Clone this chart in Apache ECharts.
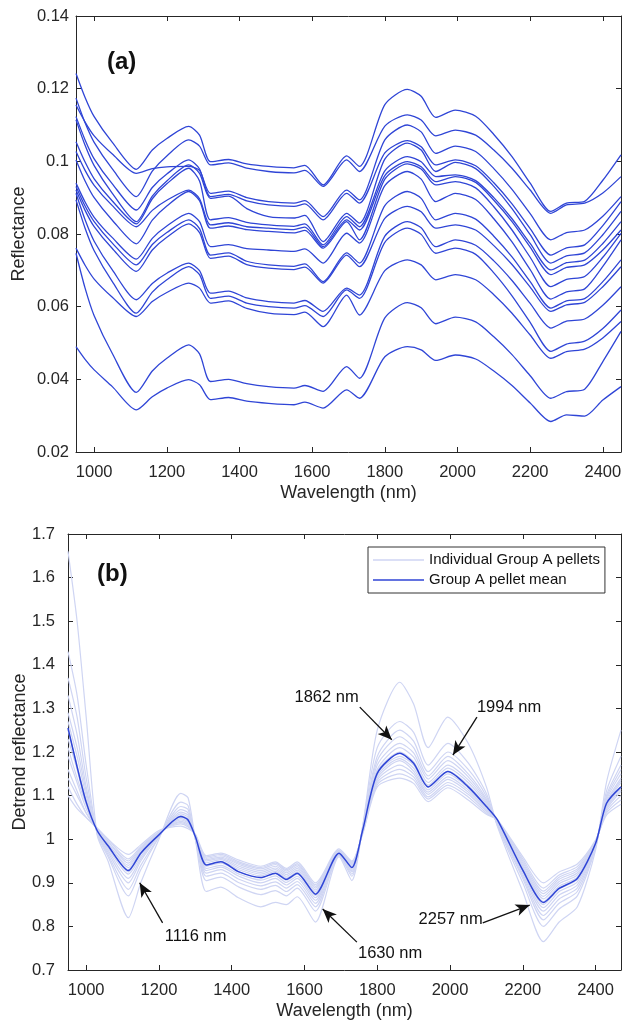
<!DOCTYPE html>
<html>
<head>
<meta charset="utf-8">
<script src="https://cdn.jsdelivr.net/npm/echarts@6/dist/echarts.min.js"></script>
<style>
  html, body { margin: 0; padding: 0; background: #fff; }
  #chart { width: 622px; height: 1023px; }
</style>
</head>
<body>
<div id="chart"></div>
<script>
// ---- panel (a): raw reflectance spectra ----
const wlA = [950, 975, 1000, 1050, 1116, 1160, 1200, 1260, 1290, 1320, 1370, 1420, 1480, 1550, 1580, 1630,
  1695, 1730, 1800, 1862, 1900, 1940, 1994, 2050, 2100, 2150, 2200, 2257, 2300, 2350, 2400, 2450];

const spectraA = [
  [.1242,.1176,.1123,.1052,.0978,.1031,.1063,.1096,.1072,.0999,.1005,.0993,.0986,.0982,.0989,.0935,.1015,.0986,.1156,.1198,.1179,.1121,.1141,.1124,.1074,.1013,.0940,.0862,.0885,.0890,.0948,.1018],
  [.1174,.1106,.1052,.0979,.0903,.0973,.1015,.1059,.1042,.0990,.0996,.0981,.0972,.0968,.0975,.0931,.1004,.0972,.1097,.1128,.1114,.1070,.1086,.1072,.1031,.0981,.0921,.0857,.0880,.0885,.0913,.0958],
  [.1155,.1108,.1070,.1020,.0967,.0980,.0985,.0986,.0975,.0912,.0918,.0900,.0889,.0885,.0892,.0848,.0921,.0894,.1059,.1100,.1081,.1022,.1042,.1027,.0980,.0923,.0856,.0784,.0804,.0811,.0849,.0903],
  [.1123,.1059,.1007,.0938,.0866,.0928,.0965,.1004,.0979,.0903,.0909,.0891,.0880,.0876,.0883,.0839,.0912,.0885,.1023,.1057,.1040,.0990,.1004,.0988,.0941,.0883,.0815,.0742,.0762,.0770,.0823,.0889],
  [.1114,.1044,.0988,.0912,.0834,.0904,.0946,.0990,.0967,.0898,.0904,.0870,.0848,.0844,.0851,.0779,.0857,.0830,.1006,.1050,.1031,.0972,.0997,.0980,.0931,.0870,.0798,.0720,.0740,.0748,.0798,.0862],
  [.1054,.0998,.0952,.0891,.0828,.0897,.0938,.0981,.0946,.0839,.0845,.0832,.0825,.0821,.0828,.0770,.0848,.0820,.0974,.1013,.0999,.0958,.0963,.0947,.0900,.0842,.0774,.0701,.0721,.0728,.0774,.0834],
  [.1027,.0975,.0934,.0878,.0820,.0865,.0893,.0921,.0897,.0825,.0831,.0820,.0816,.0812,.0819,.0765,.0839,.0811,.0961,.0999,.0985,.0944,.0958,.0942,.0893,.0834,.0764,.0688,.0708,.0715,.0756,.0811],
  [.1004,.0946,.0900,.0838,.0773,.0838,.0877,.0917,.0892,.0816,.0822,.0812,.0807,.0803,.0810,.0761,.0834,.0784,.0951,.0993,.0979,.0935,.0944,.0927,.0875,.0811,.0736,.0655,.0675,.0683,.0736,.0802],
  [.0940,.0888,.0846,.0790,.0731,.0788,.0822,.0857,.0834,.0765,.0771,.0760,.0756,.0752,.0759,.0720,.0802,.0775,.0933,.0972,.0951,.0889,.0912,.0895,.0842,.0778,.0702,.0621,.0641,.0649,.0711,.0784],
  [.0931,.0877,.0834,.0775,.0715,.0771,.0804,.0839,.0815,.0742,.0748,.0725,.0715,.0711,.0718,.0669,.0748,.0720,.0878,.0917,.0898,.0839,.0857,.0841,.0794,.0737,.0669,.0596,.0616,.0622,.0669,.0729],
  [.0921,.0865,.0820,.0760,.0697,.0756,.0791,.0828,.0804,.0733,.0739,.0716,.0706,.0702,.0709,.0665,.0742,.0710,.0843,.0876,.0861,.0816,.0825,.0811,.0768,.0716,.0654,.0587,.0605,.0612,.0655,.0710],
  [.0912,.0839,.0780,.0701,.0619,.0664,.0692,.0720,.0699,.0637,.0643,.0624,.0614,.0610,.0617,.0587,.0651,.0632,.0794,.0834,.0817,.0765,.0784,.0769,.0726,.0672,.0609,.0541,.0560,.0566,.0604,.0655],
  [.0894,.0816,.0754,.0669,.0582,.0640,.0674,.0710,.0688,.0623,.0629,.0610,.0600,.0596,.0603,.0573,.0646,.0623,.0777,.0816,.0799,.0747,.0761,.0744,.0693,.0630,.0557,.0477,.0497,.0505,.0540,.0591],
  [.0761,.0714,.0676,.0626,.0573,.0614,.0639,.0665,.0651,.0610,.0616,.0595,.0582,.0578,.0585,.0545,.0632,.0577,.0699,.0729,.0715,.0674,.0688,.0674,.0633,.0582,.0522,.0458,.0476,.0483,.0514,.0559],
  [.0747,.0651,.0575,.0471,.0364,.0423,.0458,.0495,.0470,.0394,.0400,.0388,.0380,.0376,.0383,.0367,.0435,.0403,.0569,.0611,.0597,.0553,.0571,.0558,.0517,.0468,.0410,.0348,.0366,.0373,.0449,.0532],
  [.0490,.0455,.0426,.0380,.0316,.0352,.0376,.0399,.0385,.0344,.0350,.0340,.0334,.0330,.0337,.0321,.0371,.0348,.0462,.0490,.0481,.0452,.0467,.0456,.0423,.0383,.0335,.0284,.0302,.0299,.0343,.0380]
];

// ---- panel (b): detrended spectra ----
const wlB = [950, 975, 1000, 1030, 1060, 1116, 1150, 1200, 1260, 1280, 1300, 1330, 1370, 1420, 1480, 1520, 1550, 1580,
  1630, 1695, 1730, 1760, 1800, 1862, 1900, 1940, 1994, 2050, 2100, 2130, 2200, 2257, 2300, 2350, 2400, 2430, 2470];

const meanB = [1.255, 1.166, 1.085, 1.020, 0.985, 0.928, 0.968, 1.010, 1.052, 1.044, 1.006, 0.941, 0.948, 0.925, 0.912,
  0.922, 0.908, 0.922, 0.874, 0.968, 0.935, 1.021, 1.151, 1.197, 1.174, 1.120, 1.155, 1.120, 1.075, 1.045, 0.929,
  0.855, 0.887, 0.910, 0.990, 1.082, 1.120];

// one row per wavelength in wlB, one column per pellet
const pelletRows = [
  [1.66, 1.43, 1.37, 1.33, 1.29, 1.27, 1.25, 1.23, 1.21, 1.19, 1.16, 1.14, 1.12, 1.10],
  [1.50, 1.33, 1.28, 1.24, 1.21, 1.19, 1.17, 1.16, 1.14, 1.13, 1.11, 1.10, 1.08, 1.07],
  [1.28, 1.17, 1.14, 1.12, 1.11, 1.10, 1.09, 1.08, 1.08, 1.07, 1.06, 1.06, 1.05, 1.05],
  [1.010, 1.013, 1.015, 1.016, 1.017, 1.018, 1.019, 1.020, 1.021, 1.022, 1.023, 1.024, 1.025, 1.026],
  [0.95, 0.96, 0.965, 0.97, 0.975, 0.98, 0.985, 0.985, 0.99, 0.99, 0.995, 0.995, 1.0, 1.0],
  [0.82, 0.87, 0.885, 0.90, 0.91, 0.92, 0.925, 0.93, 0.935, 0.94, 0.945, 0.95, 0.955, 0.965],
  [0.90, 0.93, 0.94, 0.95, 0.955, 0.96, 0.965, 0.97, 0.972, 0.975, 0.978, 0.98, 0.983, 0.987],
  [1.00, 1.005, 1.005, 1.008, 1.01, 1.01, 1.01, 1.012, 1.012, 1.014, 1.015, 1.016, 1.017, 1.02],
  [1.105, 1.085, 1.075, 1.068, 1.062, 1.058, 1.054, 1.05, 1.047, 1.044, 1.041, 1.038, 1.035, 1.03],
  [1.095, 1.077, 1.068, 1.06, 1.055, 1.05, 1.046, 1.043, 1.04, 1.037, 1.034, 1.031, 1.028, 1.024],
  [1.00, 1.00, 1.00, 1.003, 1.005, 1.005, 1.006, 1.007, 1.008, 1.008, 1.009, 1.01, 1.01, 1.012],
  [0.88, 0.905, 0.915, 0.922, 0.928, 0.933, 0.938, 0.942, 0.946, 0.95, 0.953, 0.956, 0.959, 0.962],
  [0.89, 0.913, 0.922, 0.93, 0.936, 0.94, 0.945, 0.949, 0.953, 0.956, 0.959, 0.962, 0.965, 0.968],
  [0.865, 0.89, 0.90, 0.908, 0.915, 0.92, 0.925, 0.93, 0.934, 0.938, 0.942, 0.945, 0.948, 0.952],
  [0.845, 0.873, 0.885, 0.893, 0.90, 0.906, 0.911, 0.916, 0.92, 0.924, 0.928, 0.932, 0.935, 0.938],
  [0.855, 0.882, 0.894, 0.902, 0.91, 0.916, 0.921, 0.926, 0.93, 0.934, 0.938, 0.942, 0.945, 0.948],
  [0.85, 0.87, 0.88, 0.888, 0.895, 0.901, 0.906, 0.911, 0.915, 0.919, 0.923, 0.927, 0.93, 0.933],
  [0.868, 0.888, 0.896, 0.903, 0.91, 0.915, 0.92, 0.925, 0.929, 0.933, 0.937, 0.941, 0.944, 0.948],
  [0.81, 0.835, 0.845, 0.853, 0.86, 0.866, 0.871, 0.876, 0.88, 0.884, 0.888, 0.892, 0.896, 0.90],
  [0.96, 0.963, 0.964, 0.965, 0.966, 0.967, 0.968, 0.969, 0.97, 0.971, 0.972, 0.973, 0.975, 0.978],
  [0.905, 0.915, 0.92, 0.925, 0.928, 0.931, 0.934, 0.937, 0.94, 0.942, 0.944, 0.946, 0.948, 0.95],
  [1.03, 1.03, 1.025, 1.025, 1.022, 1.022, 1.02, 1.02, 1.018, 1.018, 1.016, 1.016, 1.014, 1.012],
  [1.25, 1.21, 1.19, 1.18, 1.17, 1.16, 1.155, 1.15, 1.145, 1.14, 1.135, 1.13, 1.125, 1.12],
  [1.36, 1.27, 1.25, 1.235, 1.22, 1.21, 1.20, 1.19, 1.185, 1.18, 1.17, 1.16, 1.15, 1.14],
  [1.31, 1.245, 1.225, 1.21, 1.198, 1.188, 1.178, 1.17, 1.163, 1.156, 1.15, 1.143, 1.136, 1.128],
  [1.21, 1.17, 1.155, 1.145, 1.138, 1.13, 1.124, 1.118, 1.113, 1.108, 1.103, 1.097, 1.092, 1.086],
  [1.28, 1.22, 1.20, 1.19, 1.18, 1.17, 1.163, 1.156, 1.15, 1.143, 1.137, 1.13, 1.124, 1.118],
  [1.22, 1.175, 1.16, 1.15, 1.143, 1.136, 1.13, 1.124, 1.118, 1.113, 1.108, 1.103, 1.097, 1.09],
  [1.12, 1.105, 1.098, 1.092, 1.088, 1.084, 1.08, 1.076, 1.073, 1.07, 1.067, 1.064, 1.06, 1.057],
  [1.030, 1.032, 1.034, 1.035, 1.036, 1.037, 1.038, 1.039, 1.040, 1.041, 1.042, 1.043, 1.044, 1.045],
  [0.88, 0.90, 0.91, 0.915, 0.92, 0.925, 0.93, 0.935, 0.938, 0.942, 0.946, 0.95, 0.955, 0.96],
  [0.765, 0.80, 0.815, 0.825, 0.835, 0.843, 0.85, 0.857, 0.863, 0.869, 0.875, 0.881, 0.888, 0.90],
  [0.81, 0.84, 0.853, 0.863, 0.872, 0.88, 0.886, 0.892, 0.898, 0.903, 0.908, 0.913, 0.918, 0.925],
  [0.845, 0.87, 0.88, 0.888, 0.895, 0.902, 0.908, 0.913, 0.918, 0.923, 0.928, 0.932, 0.937, 0.943],
  [0.975, 0.98, 0.982, 0.984, 0.986, 0.988, 0.99, 0.991, 0.992, 0.993, 0.994, 0.995, 0.996, 0.998],
  [1.13, 1.11, 1.10, 1.095, 1.09, 1.085, 1.082, 1.078, 1.075, 1.072, 1.068, 1.064, 1.06, 1.055],
  [1.25, 1.19, 1.17, 1.16, 1.15, 1.14, 1.135, 1.13, 1.12, 1.115, 1.11, 1.10, 1.09, 1.08]
];

const xTicks = [1000, 1200, 1400, 1600, 1800, 2000, 2200, 2400];

// arrows in panel (b): [label, label anchor, label align, arrow tail, arrow head]
const annotations = [
  ['1862 nm', [1749, 1.326], 'right', [1752, 1.303], [1840, 1.228]],
  ['1994 nm', [2074, 1.303], 'left', [2074, 1.280], [2008, 1.193]],
  ['1116 nm', [1216, 0.776], 'left', [1210, 0.808], [1147, 0.900]],
  ['1630 nm', [1747, 0.737], 'left', [1744, 0.764], [1650, 0.840]],
  ['2257 nm', [2090, 0.815], 'right', [2090, 0.808], [2219, 0.849]]
];

const FONT = '"Liberation Sans", Arial, Helvetica, sans-serif';
const AX = '#262626';
const BLUE = '#2f45d6';
const LIGHT = '#cfd5f3';

const chart = echarts.init(document.getElementById('chart'), null, { renderer: 'canvas' });

function xAxes(gridIndex, max) {
  const base = {
    type: 'value', gridIndex, min: 950, max,
    axisLine: { show: true, onZero: false, lineStyle: { color: AX, width: 1 } },
    axisTick: { show: true, inside: true, length: 5, customValues: xTicks, lineStyle: { color: AX } },
    splitLine: { show: false }
  };
  return [
    Object.assign({}, base, {
      position: 'bottom',
      axisLabel: {
        show: true, customValues: xTicks, color: AX, fontSize: 16.5, fontFamily: FONT, margin: 12,
        formatter: v => String(v)
      },
      name: 'Wavelength (nm)', nameLocation: 'middle', nameGap: 32,
      nameTextStyle: { color: AX, fontSize: 18, fontFamily: FONT }
    }),
    Object.assign({}, base, { position: 'top', axisLabel: { show: false } })
  ];
}

function yAxes(gridIndex, min, max, interval, name, gap, margin) {
  const base = {
    type: 'value', gridIndex, min, max, interval,
    axisLine: { show: true, onZero: false, lineStyle: { color: AX, width: 1 } },
    axisTick: { show: true, inside: true, length: 5, lineStyle: { color: AX } },
    splitLine: { show: false }
  };
  return [
    Object.assign({}, base, {
      position: 'left',
      axisLabel: { color: AX, fontSize: 16.5, fontFamily: FONT, margin },
      name, nameLocation: 'middle', nameGap: gap, nameMoveOverlap: false,
      nameTextStyle: { color: AX, fontSize: 18, fontFamily: FONT }
    }),
    Object.assign({}, base, { position: 'right', axisLabel: { show: false } })
  ];
}

const series = [];

spectraA.forEach((vals, i) => {
  series.push({
    type: 'line', xAxisIndex: 0, yAxisIndex: 0, name: 'spectrum ' + (i + 1),
    data: wlA.map((w, j) => [w, vals[j]]),
    symbol: 'none', smooth: 0.25,
    lineStyle: { color: BLUE, width: 1.3 },
    silent: true
  });
});

for (let k = 0; k < pelletRows[0].length; k++) {
  series.push({
    type: 'line', xAxisIndex: 2, yAxisIndex: 2, name: 'Individual Group A pellets',
    data: wlB.map((w, j) => [w, pelletRows[j][k]]),
    symbol: 'none', smooth: 0.25,
    itemStyle: { color: LIGHT },
    lineStyle: { color: LIGHT, width: 1.2 },
    silent: true
  });
}

series.push({
  type: 'line', xAxisIndex: 2, yAxisIndex: 2, name: 'Group A pellet mean',
  data: wlB.map((w, j) => [w, meanB[j]]),
  symbol: 'none', smooth: 0.25, z: 5,
  itemStyle: { color: BLUE },
  lineStyle: { color: BLUE, width: 1.5 },
  silent: true,
  markLine: {
    silent: true, animation: false,
    symbol: ['none', 'arrow'], symbolSize: [9, 14],
    label: { show: false },
    lineStyle: { color: '#111', width: 1.3, type: 'solid' },
    data: annotations.map(a => [{ coord: a[3] }, { coord: a[4] }])
  }
});

chart.setOption({
  animation: false,
  textStyle: { fontFamily: FONT },
  grid: [
    { left: 76, top: 16, width: 545, height: 436, outerBoundsMode: 'none' },
    { left: 68, top: 534, width: 553, height: 436, outerBoundsMode: 'none' }
  ],
  xAxis: [...xAxes(0, 2450), ...xAxes(1, 2470)],
  yAxis: [
    ...yAxes(0, 0.02, 0.14, 0.02, 'Reflectance', 48, 7),
    ...yAxes(1, 0.7, 1.7, 0.1, 'Detrend reflectance', 39, 13)
  ],
  legend: {
    data: [
      { name: 'Individual Group A pellets', icon: 'rect' },
      { name: 'Group A pellet mean', icon: 'rect' }
    ],
    orient: 'vertical', left: 368, top: 547, width: 240,
    backgroundColor: '#fff', borderColor: '#333', borderWidth: 1,
    padding: [5, 5, 5, 5], itemGap: 4, itemWidth: 51, itemHeight: 1.6,
    selectedMode: false,
    textStyle: { color: '#111', fontSize: 15, fontFamily: FONT, lineHeight: 16 }
  },
  series
});

// panel letters and arrow captions
const texts = [
  { type: 'text', x: 107, y: 62, style: { text: '(a)', font: 'bold 24px ' + FONT, fill: '#111', verticalAlign: 'middle' } },
  { type: 'text', x: 97, y: 574, style: { text: '(b)', font: 'bold 24px ' + FONT, fill: '#111', verticalAlign: 'middle' } }
];
annotations.forEach(a => {
  const p = chart.convertToPixel({ gridIndex: 1 }, a[1]);
  texts.push({
    type: 'text', x: p[0], y: p[1],
    style: { text: a[0], font: '16.5px ' + FONT, fill: '#111', align: a[2], verticalAlign: 'middle' }
  });
});
chart.setOption({ graphic: texts });
</script>
</body>
</html>
